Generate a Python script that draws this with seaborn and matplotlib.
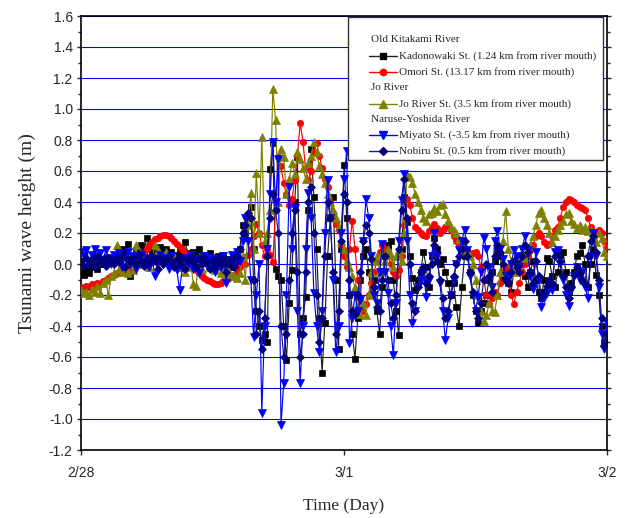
import numpy as np
import pandas as pd
import seaborn as sns
import matplotlib.pyplot as plt
from matplotlib.patches import Rectangle

sns.set_style('white')
plt.rcParams['font.family'] = ['Liberation Sans', 'DejaVu Sans']

# water level records, one value every 15 min from 2/28 00:00 to 3/2 00:00
samples_per_day = 96

kadonowaki = [
    -0.05, -0.07, -0.04, -0.06, -0.02, 0.00, -0.03, 0.02, 0.00, 0.03, 0.01, 0.04,
    0.02, 0.06, 0.04, 0.10, 0.07, 0.13, -0.08, 0.05, 0.09, 0.04, 0.12, 0.08,
    0.17, 0.10, 0.06, 0.09, 0.04, 0.11, 0.07, 0.10, 0.05, 0.08, 0.03, 0.06,
    0.09, 0.05, 0.14, 0.07, 0.03, 0.08, 0.05, 0.10, 0.04, 0.06, 0.02, 0.07,
    0.04, 0.01, 0.05, 0.02, 0.06, 0.00, 0.03, -0.02, 0.02, 0.00, 0.10, 0.25,
    0.20, 0.30, 0.37, 0.10, -0.30, -0.40, -0.49, -0.45, -0.50, 0.61, 0.78, -0.03,
    -0.08, -0.10, -0.40, -0.62, -0.25, -0.04, 0.40, 0.69, -0.45, -0.35, -0.21, 0.35,
    0.74, 0.43, 0.10, -0.35, -0.70, -0.38, 0.05, 0.30, 0.43, -0.10, -0.55, 0.10,
    0.64, 0.30, -0.20, -0.45, -0.61, -0.35, -0.10, 0.05, 0.10, -0.05, -0.20, -0.10,
    -0.30, -0.45, -0.15, 0.05, 0.12, 0.15, -0.10, -0.30, -0.46, 0.10, 0.43, 0.27,
    0.05, -0.09, -0.17, -0.10, -0.05, 0.08, -0.02, -0.15, 0.05, 0.17, 0.10, 0.00,
    0.03, -0.05, -0.12, -0.20, -0.12, -0.28, -0.40, -0.15, 0.05, 0.08, -0.05, -0.20,
    -0.30, -0.38, -0.30, -0.25, -0.20, -0.10, -0.05, 0.02, 0.10, 0.05, -0.10, -0.05,
    -0.12, -0.18, -0.05, 0.04, 0.00, 0.03, -0.08, -0.15, -0.05, 0.02, -0.10, -0.18,
    -0.22, -0.10, 0.04, 0.02, -0.08, -0.15, -0.05, 0.06, 0.08, -0.05, -0.18, -0.12,
    -0.05, 0.05, 0.07, 0.12, 0.00, -0.15, 0.00, 0.10, -0.07, -0.20, -0.40, -0.50,
    -0.45]

omori = [
    -0.15, -0.16, -0.14, -0.15, -0.13, -0.14, -0.12, -0.13, -0.11, -0.10, -0.09, -0.08,
    -0.07, -0.06, -0.06, -0.05, -0.04, -0.03, -0.02, -0.02, 0.00, 0.02, 0.04, 0.07,
    0.10, 0.12, 0.14, 0.16, 0.17, 0.18, 0.19, 0.19, 0.18, 0.17, 0.15, 0.13,
    0.11, 0.10, 0.08, 0.05, 0.02, -0.01, -0.04, -0.06, -0.08, -0.09, -0.10, -0.11,
    -0.12, -0.13, -0.13, -0.12, -0.11, -0.10, -0.09, -0.08, -0.07, -0.05, -0.02, 0.02,
    0.00, 0.06, 0.10, 0.18, 0.26, 0.20, 0.12, 0.05, 0.10, 0.06, 0.01, 0.35,
    0.69, 0.63, 0.52, 0.45, 0.38, 0.42, 0.54, 0.70, 0.91, 0.79, 0.61, 0.54,
    0.60, 0.72, 0.78, 0.70, 0.62, 0.55, 0.50, 0.40, 0.33, 0.26, 0.22, 0.12,
    0.05, -0.02, 0.10, 0.28, 0.10, -0.10, -0.22, -0.30, -0.26, -0.20, -0.12, -0.05,
    0.02, 0.08, 0.12, 0.10, 0.05, 0.00, -0.05, -0.08, -0.04, 0.05, 0.25, 0.42,
    0.38, 0.30, 0.24, 0.22, 0.20, 0.19, 0.18, 0.21, 0.24, 0.26, 0.23, 0.20,
    0.22, 0.24, 0.26, 0.22, 0.18, 0.15, 0.12, 0.10, 0.08, 0.06, 0.05, 0.07,
    0.08, 0.05, -0.02, -0.10, -0.20, -0.26, -0.22, -0.18, -0.20, -0.12, -0.05, -0.02,
    -0.08, -0.20, -0.26, -0.18, -0.12, -0.05, 0.00, 0.05, 0.09, 0.12, 0.18, 0.20,
    0.18, 0.14, 0.12, 0.13, 0.18, 0.22, 0.24, 0.30, 0.37, 0.40, 0.42, 0.41,
    0.40, 0.38, 0.37, 0.36, 0.35, 0.30, 0.24, 0.18, 0.20, 0.22, 0.20, 0.15,
    0.11]

jo_river = [
    -0.17, -0.19, -0.18, -0.20, -0.16, -0.18, -0.14, -0.19, -0.12, -0.10, -0.20, -0.08,
    -0.06, 0.12, -0.03, -0.05, -0.02, -0.06, 0.00, -0.04, 0.12, 0.00, 0.04, 0.01,
    0.03, -0.02, 0.05, 0.12, 0.09, 0.02, 0.06, 0.08, 0.03, 0.00, 0.05, 0.02,
    -0.02, 0.03, -0.05, -0.02, 0.02, -0.13, -0.14, 0.04, -0.03, 0.01, 0.05, -0.02,
    0.00, -0.04, -0.01, -0.06, -0.03, -0.08, -0.05, -0.08, -0.07, -0.09, -0.06, 0.05,
    -0.10, 0.25, 0.46, 0.10, 0.59, 0.20, 0.82, 0.15, 0.20, 0.35, 1.13, 0.93,
    0.40, 0.74, 0.69, 0.45, 0.55, 0.65, 0.58, 0.72, 0.68, 0.62, 0.55, 0.65,
    0.70, 0.79, 0.72, 0.63, 0.58, 0.52, 0.45, 0.40, 0.35, 0.30, 0.24, 0.15,
    0.10, 0.02, -0.02, -0.08, -0.15, -0.28, -0.32, -0.25, -0.33, -0.20, -0.05, 0.02,
    0.05, -0.05, 0.08, 0.02, 0.10, 0.06, -0.02, 0.05, 0.10, 0.02, 0.20, 0.58,
    0.56, 0.52, 0.45, 0.40, 0.35, 0.30, 0.28, 0.32, 0.33, 0.36, 0.34, 0.38,
    0.39, 0.32, 0.28, 0.24, 0.22, 0.20, 0.16, 0.13, 0.10, 0.08, 0.05, 0.00,
    -0.10, -0.20, -0.30, -0.37, -0.33, -0.25, -0.30, -0.31, -0.20, -0.05, 0.15, 0.34,
    0.10, 0.02, -0.05, 0.00, 0.05, 0.08, 0.04, 0.10, 0.12, 0.18, 0.25, 0.33,
    0.35, 0.30, 0.25, 0.20, 0.14, 0.18, 0.22, 0.25, 0.28, 0.32, 0.33, 0.28,
    0.26, 0.23, 0.25, 0.22, 0.24, 0.21, 0.22, 0.18, 0.14, 0.20, 0.17, 0.08,
    0.05]

miyato = [
    0.08, 0.05, 0.09, 0.02, 0.06, 0.10, 0.03, 0.07, 0.01, 0.09, 0.04, 0.00,
    0.06, 0.02, 0.07, -0.02, 0.04, 0.08, 0.00, 0.05, -0.03, 0.03, 0.06, 0.01,
    0.04, -0.02, 0.03, -0.08, 0.02, 0.06, 0.00, 0.04, -0.03, 0.05, 0.01, -0.04,
    -0.17, -0.02, 0.04, 0.00, 0.06, -0.03, 0.03, -0.06, 0.02, 0.05, -0.01, 0.04,
    0.00, -0.05, 0.03, -0.02, 0.05, -0.12, 0.02, 0.06, 0.00, 0.08, 0.02, 0.15,
    0.30, 0.15, -0.10, -0.47, -0.20, 0.00, -0.96, -0.40, 0.10, 0.45, 0.79, 0.40,
    0.68, -1.04, -0.77, -0.20, 0.50, 0.10, 0.36, -0.30, -0.77, -0.40, 0.10, 0.46,
    0.30, -0.19, -0.40, -0.57, -0.30, 0.20, 0.54, 0.30, -0.10, -0.57, -0.40, 0.20,
    0.55, 0.73, -0.51, -0.35, -0.20, -0.30, -0.23, 0.15, 0.42, 0.30, 0.05, -0.20,
    -0.25, -0.05, 0.13, -0.05, -0.19, -0.40, -0.59, -0.25, 0.15, 0.41, 0.58, 0.15,
    -0.20, -0.38, -0.30, -0.15, -0.10, -0.05, -0.21, -0.10, 0.05, 0.20, 0.05, -0.12,
    -0.30, -0.49, -0.35, -0.20, -0.10, 0.00, 0.09, 0.15, 0.22, 0.09, -0.08, -0.20,
    -0.30, -0.21, -0.05, 0.17, 0.10, -0.02, -0.15, 0.15, 0.21, 0.10, 0.03, -0.08,
    -0.10, 0.00, 0.09, 0.05, -0.02, 0.10, 0.18, 0.09, -0.08, -0.16, 0.08, -0.10,
    -0.28, -0.22, -0.19, -0.12, -0.17, 0.08, 0.09, 0.00, -0.10, -0.20, -0.27, -0.17,
    -0.08, -0.02, -0.10, -0.05, -0.15, -0.22, 0.05, 0.20, 0.05, -0.15, -0.45, -0.55,
    -0.38]

nobiru = [
    0.02, -0.01, 0.04, 0.00, 0.03, -0.02, 0.05, 0.01, 0.03, -0.01, 0.04, 0.02,
    0.00, 0.04, 0.01, 0.05, -0.02, 0.03, 0.01, 0.04, 0.00, 0.06, 0.02, -0.01,
    0.03, 0.01, 0.05, 0.02, -0.03, 0.04, 0.00, 0.03, 0.05, 0.01, -0.02, 0.03,
    0.00, 0.04, -0.03, 0.02, 0.05, 0.01, -0.02, 0.03, 0.00, 0.04, 0.01, -0.03,
    0.02, -0.01, 0.03, 0.00, 0.04, -0.05, 0.01, 0.03, -0.02, 0.05, 0.10, 0.20,
    0.25, 0.33, 0.30, -0.10, -0.45, -0.30, -0.55, -0.35, 0.05, 0.30, 0.45, 0.35,
    0.20, -0.40, -0.60, -0.45, -0.10, 0.20, 0.35, -0.05, -0.60, -0.45, -0.05, 0.40,
    0.50, 0.20, -0.20, -0.50, -0.35, 0.05, 0.40, 0.30, -0.05, -0.45, -0.30, 0.15,
    0.45, 0.40, -0.10, -0.30, -0.32, -0.20, -0.05, 0.15, 0.25, 0.20, 0.03, -0.15,
    -0.28, -0.30, -0.10, 0.05, -0.10, -0.25, -0.35, -0.20, 0.10, 0.35, 0.55, 0.30,
    0.00, -0.25, -0.30, -0.15, -0.05, -0.02, -0.12, -0.08, 0.00, 0.12, 0.02, -0.10,
    -0.22, -0.35, -0.30, -0.20, -0.08, 0.00, 0.05, 0.10, 0.15, 0.05, -0.05, -0.18,
    -0.30, -0.35, -0.25, -0.10, 0.00, -0.08, -0.18, 0.05, 0.12, 0.08, 0.00, -0.10,
    -0.12, -0.05, 0.02, -0.02, -0.05, 0.05, 0.12, 0.08, -0.05, -0.12, 0.02, -0.08,
    -0.20, -0.18, -0.14, -0.10, -0.12, 0.05, 0.06, 0.02, -0.08, -0.15, -0.22, -0.15,
    -0.07, -0.02, -0.06, -0.10, -0.13, 0.05, 0.15, 0.18, 0.08, -0.10, -0.35, -0.53,
    -0.45]

day_ticks = [0, 1, 2]
day_labels = ['2/28', '3/1', '3/2']
height_ticks = [-1.2, -1.0, -0.8, -0.6, -0.4, -0.2, 0.0, 0.2, 0.4, 0.6, 0.8, 1.0, 1.2, 1.4, 1.6]

# legend layout: group headers followed by their stations
legend_rows = [
    ('Old Kitakami River', None),
    ('Kadonowaki St. (1.24 km from river mouth)', 'Kadonowaki'),
    ('Omori St. (13.17 km from river mouth)', 'Omori'),
    ('Jo River', None),
    ('Jo River St. (3.5 km from river mouth)', 'Jo River'),
    ('Naruse-Yoshida River', None),
    ('Miyato St. (-3.5 km from river mouth)', 'Miyato'),
    ('Nobiru St. (0.5 km from river mouth)', 'Nobiru'),
]

series = {'Kadonowaki': kadonowaki, 'Omori': omori, 'Jo River': jo_river,
          'Miyato': miyato, 'Nobiru': nobiru}
styles = {
    'Kadonowaki': dict(color='#000000', line='#202020', marker='s', ms=4.3),
    'Omori': dict(color='#FF0000', line='#FF0000', marker='o', ms=4.6),
    'Jo River': dict(color='#808000', line='#808000', marker='^', ms=5.2),
    'Miyato': dict(color='#0000FF', line='#0000FF', marker='v', ms=5.2),
    'Nobiru': dict(color='#000080', line='#1a1a80', marker='D', ms=3.7),
}

df = pd.concat([
    pd.DataFrame({'day': np.arange(len(vals)) / samples_per_day,
                  'height': vals, 'station': name})
    for name, vals in series.items()
], ignore_index=True)

fig = plt.figure(figsize=(6.28, 5.18), dpi=100)
ax = fig.add_axes([81 / 628, 68 / 518, 526 / 628, 434 / 518])

for k, name in enumerate(series):
    st = styles[name]
    sns.lineplot(data=df[df['station'] == name], x='day', y='height',
                 color=st['line'], marker=st['marker'], markersize=st['ms'],
                 markerfacecolor=st['color'], markeredgecolor=st['color'],
                 markeredgewidth=0.5, linewidth=0.85, errorbar=None,
                 legend=False, ax=ax, zorder=3 + k)

ax.set_xlim(0, 2)
ax.set_ylim(-1.2, 1.6)
ax.set_xticks(day_ticks)
ax.set_xticklabels(day_labels)
ax.set_yticks(height_ticks)
ax.set_yticklabels([f'{v:.1f}' for v in height_ticks])
ax.set_yticks(np.arange(-1.1, 1.6, 0.2), minor=True)

ax.grid(axis='y', which='major', color='#0000FF', linewidth=0.8)
ax.set_axisbelow(True)
for sp in ax.spines.values():
    sp.set_color('black')
    sp.set_linewidth(1.2)

ax.tick_params(axis='y', which='major', direction='out', left=True, right=True,
               length=3, width=1, labelsize=10, pad=3)
ax.tick_params(axis='y', which='minor', direction='out', left=True, right=True,
               length=2, width=1)
ax.tick_params(axis='x', which='major', direction='out', bottom=True, top=False,
               length=3.5, width=1, labelsize=10, pad=8)

serif = ['Liberation Serif', 'DejaVu Serif']
ax.set_xlabel('Time (Day)', family=serif, fontsize=12.5, labelpad=13)
ax.set_ylabel('Tsunami wave height (m)', family=serif, fontsize=14, labelpad=9)


# legend drawn in axes fractions, taken from pixel positions of the figure
def frac(px, py):
    return (px - 81) / 526, (450 - py) / 434


x0, y0 = frac(348, 160)
x1, y1 = frac(603, 17)
ax.add_patch(Rectangle((x0, y0), x1 - x0, y1 - y0, transform=ax.transAxes,
                       facecolor='white', edgecolor='#333333', linewidth=1.0,
                       zorder=20))
for k, (label, key) in enumerate(legend_rows):
    py = 40 + 15.9 * k
    if key is None:
        tx, ty = frac(371, py)
    else:
        st = styles[key]
        hx0, hy = frac(369, py)
        hx1, _ = frac(397, py)
        hm, _ = frac(383, py)
        ax.plot([hx0, hx1], [hy, hy], color=st['line'], linewidth=1.0,
                transform=ax.transAxes, zorder=21)
        ax.plot([hm], [hy], linestyle='none', marker=st['marker'],
                markersize=st['ms'], color=st['color'],
                transform=ax.transAxes, zorder=22)
        tx, ty = frac(399, py)
    ax.text(tx, ty, label, transform=ax.transAxes, va='center', ha='left',
            family=serif, fontsize=8, zorder=23)

fig.savefig('out.png', dpi=100)
